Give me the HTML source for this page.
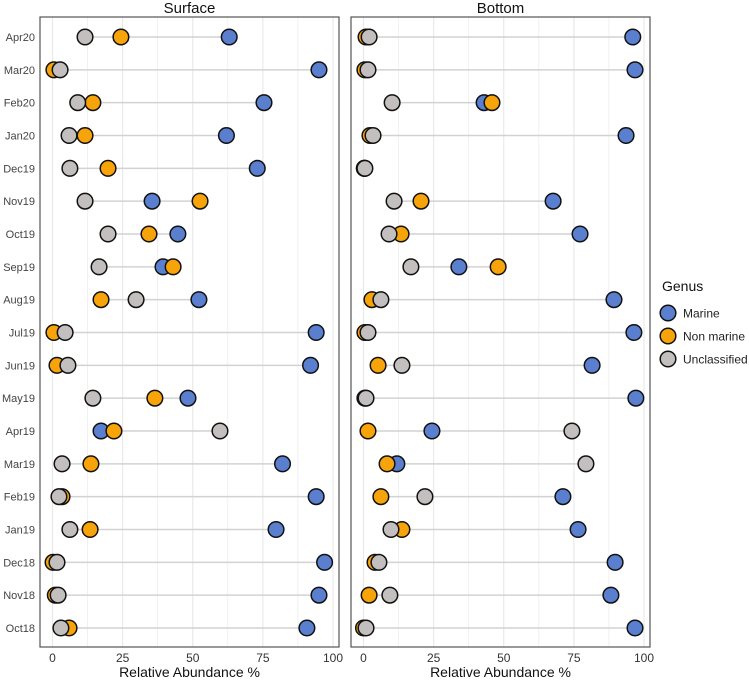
<!DOCTYPE html>
<html><head><meta charset="utf-8"><style>
body{margin:0;background:#fff;}
svg text{font-family:"Liberation Sans",sans-serif;}
</style></head><body>
<svg id="chart" width="749" height="679" xmlns="http://www.w3.org/2000/svg"></svg>
<script>
const months=["Apr20","Mar20","Feb20","Jan20","Dec19","Nov19","Oct19","Sep19","Aug19","Jul19","Jun19","May19","Apr19","Mar19","Feb19","Jan19","Dec18","Nov18","Oct18"];
const surfaceMarine=[63,95,75.4,62,73,35.5,44.7,39.4,52.2,94,92,48.3,17.3,82,94,79.7,97,95,90.7];
const surfaceNonMarine=[24.4,0.5,14.4,11.6,19.8,52.6,34.4,43,17.3,0.5,1.6,36.5,21.9,13.7,3.4,13.4,0.2,1,5.9];
const surfaceUnclassified=[11.6,2.7,9,5.9,6.2,11.6,19.8,16.6,29.8,4.5,5.5,14.4,59.7,3.4,2.3,6.2,1.6,2,3];
const bottomMarine=[96,96.8,43,93.6,0.3,67.6,77.2,34,89.3,96.4,81.5,97.1,24.4,11.9,71.1,76.5,89.7,88.2,96.8];
const bottomNonMarine=[0.9,0.5,45.8,2.3,0.3,20.5,13.4,48,3,0.5,5.2,0.5,1.6,8.4,6.2,13.7,4.1,2,0];
const bottomUnclassified=[2,1.6,10.2,3.4,0.5,10.9,9.1,16.9,6.2,1.6,13.7,0.9,74.3,79.3,21.9,9.8,5.5,9.4,0.9];
const xTicks=[0,25,50,75,100];
const seriesNames=["Marine","Non marine","Unclassified"];
const colors=["#5a7fcf","#f7a30a","#c3bfbf"];

const svg=document.getElementById('chart');
const NS="http://www.w3.org/2000/svg";
function mk(tag,attrs,parent){const e=document.createElementNS(NS,tag);for(const k in attrs)e.setAttribute(k,attrs[k]);(parent||svg).appendChild(e);return e;}
const plotTop=17,plotBottom=647,row0=37,rowStep=(628-37)/18;
const yOf=i=>row0+i*rowStep;
const panels=[
 {title:"Surface",left:40,right:339,x0:52.5,x1:333,data:[surfaceMarine,surfaceNonMarine,surfaceUnclassified]},
 {title:"Bottom",left:351,right:650,x0:363.5,x1:644,data:[bottomMarine,bottomNonMarine,bottomUnclassified]}
];
panels.forEach((p,pi)=>{
 const g=mk('g',{});
 
 
 const xs=v=>p.x0+(v/100)*(p.x1-p.x0);
 mk('rect',{x:p.left,y:plotTop,width:p.right-p.left,height:plotBottom-plotTop,fill:'#fff'},g);
 for(let v=-12.5;v<=112.5;v+=12.5){const x=xs(v);if(x<p.left||x>p.right)continue;
  const l=mk('line',{x1:x,x2:x,y1:plotTop,y2:plotBottom,stroke:'#e8e8e8','stroke-width':(v%25===0)?1.1:0.6},g);
  
  }
 months.forEach((m,i)=>{
  const y=yOf(i);
  const vals=p.data.map(a=>a[i]);
  const seg=mk('line',{x1:xs(Math.min(...vals)),x2:xs(Math.max(...vals)),y1:y,y2:y,stroke:'#d2d2d2','stroke-width':1.5},g);
  
  
  p.data.forEach((arr,si)=>{
   const c=mk('circle',{cx:xs(arr[i]),cy:y,r:7.8,fill:colors[si],stroke:'#111','stroke-width':1.5},g);
   
   
  });
  if(pi===0){const t=mk('text',{x:35,y:y+4,'text-anchor':'end','font-size':11,fill:'#444'});t.textContent=m;
   
   }
 });
 mk('rect',{x:p.left,y:plotTop,width:p.right-p.left,height:plotBottom-plotTop,fill:'none',stroke:'#555','stroke-width':1.2},g);
 xTicks.forEach(v=>{const t=mk('text',{x:xs(v),y:662,'text-anchor':'middle','font-size':12,fill:'#333'},g);t.textContent=v;
  
  });
 const st=mk('text',{x:(p.left+p.right)/2,y:13,'text-anchor':'middle','font-size':15,fill:'#111'},g);st.textContent=p.title;
 
 
 const xt=mk('text',{x:(p.left+p.right)/2,y:677,'text-anchor':'middle','font-size':14,fill:'#111'},g);xt.textContent="Relative Abundance %";
 
 
});
const lg=mk('g',{});


const lt=mk('text',{x:662,y:291,'font-size':14,fill:'#111'},lg);lt.textContent="Genus";


seriesNames.forEach((n,i)=>{const y=313+i*23;
 const c=mk('circle',{cx:668,cy:y,r:7.8,fill:colors[i],stroke:'#111','stroke-width':1.5},lg);
 
 
 const t=mk('text',{x:683,y:y+4.5,'font-size':12,fill:'#222'},lg);t.textContent=n;
 
 });
</script>
</body></html>
